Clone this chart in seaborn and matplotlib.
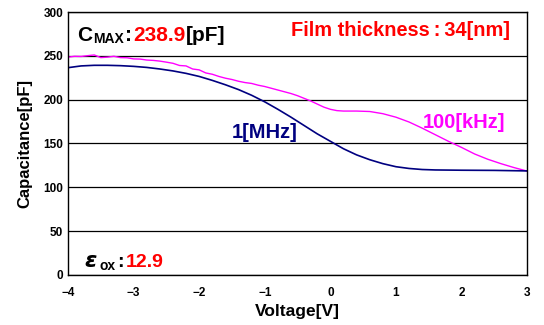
import matplotlib
matplotlib.use("Agg")
import matplotlib.pyplot as plt
import seaborn as sns
import pandas as pd

# 1 MHz curve (navy)
volt_1mhz = [-4.0, -3.8, -3.6, -3.4, -3.2, -3.0, -2.8, -2.6, -2.4, -2.2, -2.0,
             -1.8, -1.6, -1.4, -1.2, -1.0, -0.8, -0.6, -0.4, -0.2, 0.0, 0.2,
             0.4, 0.6, 0.8, 1.0, 1.2, 1.4, 1.6, 2.0, 2.5, 3.0]
cap_1mhz = [236.5, 238.5, 239.2, 239.2, 238.8, 238.0, 236.8, 235.0, 232.8, 230.0, 226.5,
            222.0, 217.0, 211.5, 205.0, 197.5, 189.0, 180.0, 170.5, 161.0, 152.5, 144.0,
            137.0, 131.5, 127.0, 123.5, 121.5, 120.3, 119.8, 119.5, 119.3, 118.7]

# 100 kHz curve (magenta)
volt_100k = [-4.0, -3.9, -3.8, -3.7, -3.6, -3.5, -3.4, -3.3, -3.2, -3.1, -3.0,
             -2.9, -2.8, -2.7, -2.6, -2.5, -2.4, -2.3, -2.2, -2.1, -2.0,
             -1.9, -1.8, -1.7, -1.6, -1.5, -1.4, -1.3, -1.2, -1.1, -1.0,
             -0.9, -0.8, -0.7, -0.6, -0.5, -0.4, -0.3, -0.2, -0.1, 0.0,
             0.1, 0.2, 0.4, 0.6, 0.8, 1.0, 1.2, 1.4, 1.6, 1.8, 2.0,
             2.2, 2.4, 2.6, 2.8, 3.0]
cap_100k = [248.5, 249.5, 249.3, 250.2, 251.0, 248.0, 248.5, 249.5, 248.0, 247.8, 246.5,
            246.3, 245.2, 244.8, 244.0, 242.8, 241.5, 239.0, 238.5, 235.0, 234.0,
            230.5, 229.0, 226.5, 224.5, 223.0, 221.0, 219.5, 218.5, 216.5, 215.0,
            213.0, 211.0, 209.0, 207.0, 204.5, 201.5, 198.5, 195.0, 191.5, 189.0,
            187.5, 187.0, 187.0, 186.5, 184.0, 180.0, 174.5, 167.5, 160.0, 152.5, 145.5,
            138.0, 132.0, 127.0, 122.5, 118.5]

x_ticks = [-4, -3, -2, -1, 0, 1, 2, 3]
y_ticks = [0, 50, 100, 150, 200, 250, 300]

NAVY = "#000080"
MAGENTA = "#FF00FF"
RED = "#FF0000"

sns.set_style("white")
plt.rcParams["font.family"] = ["Liberation Sans", "DejaVu Sans"]
plt.rcParams["font.weight"] = "bold"
plt.rcParams["text.color"] = "black"
plt.rcParams["axes.labelcolor"] = "black"
plt.rcParams["xtick.color"] = "black"
plt.rcParams["ytick.color"] = "black"

fig = plt.figure(figsize=(5.44, 3.25), dpi=100)
ax = fig.add_axes([0.125, 0.154, 0.844, 0.809])

df_hi = pd.DataFrame({"V": volt_1mhz, "C": cap_1mhz})
df_lo = pd.DataFrame({"V": volt_100k, "C": cap_100k})
sns.lineplot(data=df_lo, x="V", y="C", ax=ax, color=MAGENTA, lw=1.0, sort=False)
sns.lineplot(data=df_hi, x="V", y="C", ax=ax, color=NAVY, lw=1.2, sort=False)

ax.set_xlim(-4, 3)
ax.set_ylim(0, 300)
ax.set_xticks(x_ticks)
ax.set_yticks(y_ticks)
ax.set_xticklabels([str(t).replace("-", "\u2212") for t in x_ticks], fontsize=8.5, fontweight="bold")
ax.set_yticklabels([str(t) for t in y_ticks], fontsize=8.5, fontweight="bold")
ax.tick_params(axis="x", direction="in", length=4, width=1, color="black", pad=9)
ax.tick_params(axis="y", length=0, pad=3.5)
ax.grid(axis="y", color="black", lw=0.9)
ax.set_axisbelow(True)
for s in ax.spines.values():
    s.set_color("black")
    s.set_linewidth(1.0)

ax.set_xlabel("Voltage[V]", fontsize=12.5, fontweight="bold", labelpad=3)
ax.set_ylabel("Capacitance[pF]", fontsize=12, fontweight="bold", labelpad=8)

# C_MAX annotation (baseline-aligned pieces)
yb = 0.891
t1 = ax.text(0.0196, yb, "C", transform=ax.transAxes, fontsize=15, fontweight="bold", va="baseline")
t2 = ax.annotate("MAX", xy=(1, yb), xycoords=(t1, ax.transAxes), xytext=(0.5, -2), textcoords="offset points",
                 fontsize=10, fontweight="bold", va="baseline")
t3 = ax.annotate(":", xy=(1, yb), xycoords=(t2, ax.transAxes), xytext=(1, 0), textcoords="offset points",
                 fontsize=15, fontweight="bold", va="baseline")
t4 = ax.annotate("238.9", xy=(1, yb), xycoords=(t3, ax.transAxes), xytext=(1, 0), textcoords="offset points",
                 fontsize=15, fontweight="bold", va="baseline", color=RED)
ax.annotate("[pF]", xy=(1, yb), xycoords=(t4, ax.transAxes), fontsize=15, fontweight="bold", va="baseline")

ax.text(0.963, 0.91, "Film thickness\u2009:\u200934[nm]", transform=ax.transAxes, ha="right", va="baseline",
        fontsize=14.4, fontweight="bold", color=RED)

ax.text(-1.50, 156, "1[MHz]", ha="left", va="baseline", fontsize=14.5, fontweight="bold", color=NAVY)
ax.text(1.41, 167.8, "100[kHz]", ha="left", va="baseline", fontsize=14.5, fontweight="bold", color=MAGENTA)

# epsilon_ox annotation
eb = 0.029
e1 = ax.text(0.035, eb, "\u03b5", transform=ax.transAxes, fontsize=16, style="italic",
             fontweight="bold", va="baseline", family=["DejaVu Sans"])
e2 = ax.annotate("ox", xy=(1, eb), xycoords=(e1, ax.transAxes), xytext=(2.5, -2), textcoords="offset points",
                 fontsize=10, fontweight="bold", va="baseline")
e3 = ax.annotate(":", xy=(1, eb), xycoords=(e2, ax.transAxes), xytext=(1, 0), textcoords="offset points",
                 fontsize=14, fontweight="bold", va="baseline")
ax.annotate("12.9", xy=(1, eb), xycoords=(e3, ax.transAxes), xytext=(1, 0), textcoords="offset points",
            fontsize=14, fontweight="bold", va="baseline", color=RED)

fig.savefig("out.png", dpi=100)
